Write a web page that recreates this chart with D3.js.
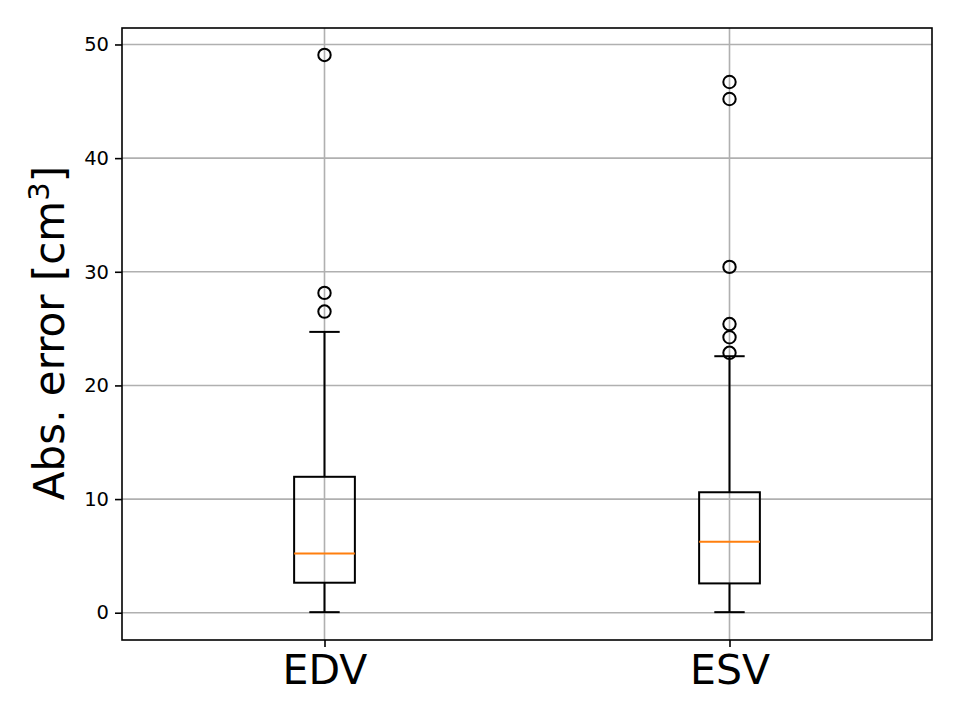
<!DOCTYPE html>
<html>
<head>
<meta charset="utf-8">
<script src="https://cdn.jsdelivr.net/npm/d3@7"></script>
<style>
  body { margin: 0; background: #fff; }
  svg { font-family: "DejaVu Sans", sans-serif; }
</style>
</head>
<body>
<div id="vis"></div>
<script>
var width = 960;
var height = 720;
var margin = { left: 122, right: 28, top: 28, bottom: 80 };

// box stats
var groups = ['EDV', 'ESV'];
var whiskerLow = [0.05, 0.05];
var q1 = [2.64, 2.58];
var medians = [5.22, 6.24];
var q3 = [11.96, 10.6];
var whiskerHigh = [24.71, 22.57];
var fliers = [
    [26.5, 28.14, 49.08],
    [22.87, 24.24, 25.4, 30.43, 45.2, 46.7]
];
var yTicks = [0, 10, 20, 30, 40, 50];

var svg = d3.select('#vis')
    .append('svg')
    .attr('width', width)
    .attr('height', height);

var x = d3.scaleLinear()
    .domain([0.5, 2.5])
    .range([margin.left, width - margin.right]);
var y = d3.scaleLinear()
    .domain([-2.4, 51.45])
    .range([height - margin.bottom, margin.top]);

var boxW = 0.15;
var capW = 0.075;

// grid
var grid = svg.append('g');
yTicks.forEach(function (t) {
    grid.append('line')
        .attr('x1', x(0.5)).attr('x2', x(2.5))
        .attr('y1', y(t)).attr('y2', y(t))
        .attr('stroke', '#b0b0b0').attr('stroke-width', 1.6);
});
groups.forEach(function (g, i) {
    grid.append('line')
        .attr('x1', x(i + 1)).attr('x2', x(i + 1))
        .attr('y1', y.range()[0]).attr('y2', y.range()[1])
        .attr('stroke', '#b0b0b0').attr('stroke-width', 1.6);
});

// boxes
var boxes = svg.append('g');
groups.forEach(function (g, i) {
    var p = i + 1;
    var lw = 2;
    boxes.append('line')
        .attr('x1', x(p)).attr('x2', x(p))
        .attr('y1', y(whiskerLow[i])).attr('y2', y(q1[i]))
        .attr('stroke', '#000').attr('stroke-width', lw);
    boxes.append('line')
        .attr('x1', x(p)).attr('x2', x(p))
        .attr('y1', y(q3[i])).attr('y2', y(whiskerHigh[i]))
        .attr('stroke', '#000').attr('stroke-width', lw);
    // caps
    [whiskerLow[i], whiskerHigh[i]].forEach(function (v) {
        boxes.append('line')
            .attr('x1', x(p - capW / 2)).attr('x2', x(p + capW / 2))
            .attr('y1', y(v)).attr('y2', y(v))
            .attr('stroke', '#000').attr('stroke-width', lw);
    });
    boxes.append('rect')
        .attr('x', x(p - boxW / 2))
        .attr('width', x(p + boxW / 2) - x(p - boxW / 2))
        .attr('y', y(q3[i]))
        .attr('height', y(q1[i]) - y(q3[i]))
        .attr('fill', 'none')
        .attr('stroke', '#000').attr('stroke-width', lw);
    boxes.append('line')
        .attr('x1', x(p - boxW / 2)).attr('x2', x(p + boxW / 2))
        .attr('y1', y(medians[i])).attr('y2', y(medians[i]))
        .attr('stroke', '#ff7f0e').attr('stroke-width', lw);
    fliers[i].forEach(function (v) {
        boxes.append('circle')
            .attr('cx', x(p)).attr('cy', y(v))
            .attr('r', 6.2)
            .attr('fill', 'none')
            .attr('stroke', '#000').attr('stroke-width', 2);
    });
});

// axes
var yAxis = svg.append('g')
    .attr('transform', 'translate(' + margin.left + ',0)')
    .call(d3.axisLeft(y).tickValues(yTicks).tickSize(7).tickPadding(6));
var xAxis = svg.append('g')
    .attr('transform', 'translate(0,' + (height - margin.bottom) + ')')
    .call(d3.axisBottom(x).tickValues([1, 2]).tickFormat(function (d) { return groups[d - 1]; })
        .tickSize(7).tickPadding(8));
[yAxis, xAxis].forEach(function (a) {
    a.select('.domain').remove();
    a.selectAll('.tick line').attr('stroke', '#000').attr('stroke-width', 1.6);
    a.selectAll('text').attr('fill', '#000').attr('font-family', '"DejaVu Sans", sans-serif');
});
yAxis.selectAll('text').attr('font-size', 19.5);
xAxis.selectAll('text').attr('font-size', 41);

// frame
svg.append('rect')
    .attr('x', margin.left).attr('y', margin.top)
    .attr('width', width - margin.left - margin.right)
    .attr('height', height - margin.top - margin.bottom)
    .attr('fill', 'none')
    .attr('stroke', '#000').attr('stroke-width', 1.6);

// y label
var label = svg.append('text')
    .attr('transform', 'translate(64,' + ((margin.top + height - margin.bottom) / 2 - 1) + ') rotate(-90)')
    .attr('text-anchor', 'middle')
    .attr('font-size', 42)
    .attr('fill', '#000');
label.append('tspan').text('Abs. error [cm');
label.append('tspan').attr('dy', -15).attr('font-size', 29).text('3');
label.append('tspan').attr('dy', 15).text(']');
</script>
</body>
</html>
